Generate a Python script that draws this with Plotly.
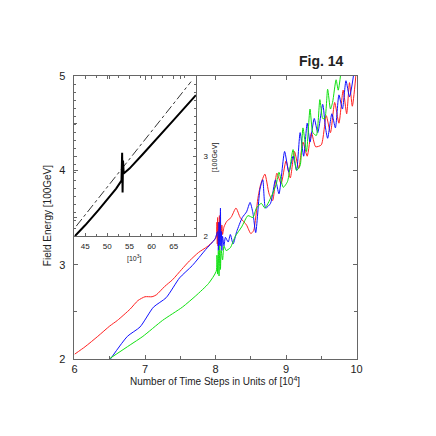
import plotly.graph_objects as go

# main panel: field energy vs time steps (units of 10^4)
red_x = [6.0, 6.15, 6.33, 6.5, 6.61, 6.79, 6.9, 7.0, 7.1, 7.16, 7.28, 7.39, 7.52, 7.63, 7.76, 7.88, 7.97, 8.01,
         8.02, 8.025, 8.03, 8.035, 8.04, 8.05, 8.055, 8.06, 8.07, 8.08, 8.09, 8.1, 8.12,
         8.16, 8.22, 8.29, 8.35, 8.44, 8.5, 8.54, 8.6, 8.64, 8.7, 8.76, 8.81, 8.87, 8.93, 9.0, 9.06,
         9.12, 9.18, 9.24, 9.3, 9.36, 9.42, 9.5, 9.57, 9.63, 9.69, 9.75, 9.81, 9.86, 9.9, 9.94, 9.99]
red_y = [2.05, 2.13, 2.24, 2.35, 2.41, 2.53, 2.62, 2.66, 2.66, 2.68, 2.77, 2.84, 2.95, 3.04, 3.13, 3.19, 3.25, 3.29,
         3.45, 3.22, 3.5, 3.2, 3.45, 3.25, 3.52, 3.28, 3.45, 3.3, 3.42, 3.32, 3.4,
         3.46, 3.5, 3.6, 3.5, 3.42, 3.33, 3.36, 3.7, 3.85, 3.96, 3.75, 3.68, 3.97, 3.86, 4.1, 3.92,
         4.2, 4.02, 4.3, 4.15, 4.4, 4.25, 4.27, 4.58, 4.4, 4.72, 4.5, 4.85, 4.6, 4.93, 4.68, 5.0]

blue_x = [6.51, 6.75, 6.93, 7.12, 7.3, 7.49, 7.67, 7.86, 7.99,
          8.03, 8.04, 8.05, 8.06, 8.07, 8.075, 8.085, 8.09, 8.1, 8.12,
          8.14, 8.18, 8.21, 8.25, 8.3, 8.38, 8.44, 8.49, 8.53, 8.57, 8.63, 8.67, 8.71, 8.78,
          8.85, 8.9, 8.98, 9.04, 9.1, 9.15, 9.2, 9.25, 9.3, 9.34, 9.4, 9.45, 9.52, 9.56, 9.59,
          9.65, 9.7, 9.75, 9.8, 9.85, 9.9, 9.96]
blue_y = [2.0, 2.24, 2.34, 2.55, 2.65, 2.86, 2.99, 3.16, 3.27,
          3.35, 3.15, 3.45, 3.2, 3.6, 3.2, 3.35, 3.15, 3.3, 3.2,
          3.29, 3.24, 3.32, 3.22, 3.35, 3.5, 3.56, 3.66, 3.55, 3.34, 3.8, 3.9, 3.6, 3.65,
          3.9, 3.75, 4.2, 3.98, 4.15, 4.0, 4.4, 4.15, 4.5, 4.3, 4.55, 4.4, 4.7, 4.45, 4.34,
          4.6, 4.45, 4.8, 4.65, 4.95, 4.78, 5.02]

green_x = [6.49, 6.79, 6.97, 7.25, 7.53, 7.72, 7.9, 8.01,
           8.02, 8.03, 8.04, 8.05, 8.06, 8.07, 8.08, 8.1, 8.12,
           8.15, 8.21, 8.28, 8.37, 8.46, 8.53, 8.58, 8.65, 8.7, 8.79, 8.86, 8.9, 8.96, 9.02,
           9.1, 9.15, 9.2, 9.24, 9.29, 9.34, 9.38, 9.43, 9.48, 9.52, 9.55, 9.59, 9.63, 9.66,
           9.71, 9.74, 9.78]
green_y = [2.0, 2.15, 2.24, 2.41, 2.55, 2.67, 2.8, 2.93,
           3.1, 2.9, 3.15, 2.88, 3.2, 2.95, 3.15, 3.05, 3.2,
           3.15, 3.18, 3.3, 3.4, 3.52, 3.5, 3.6, 3.65, 3.6, 3.72, 3.85, 3.98, 3.82, 3.88,
           4.22, 4.0, 4.05, 4.45, 4.2, 4.65, 4.4, 4.37, 4.75, 4.55, 4.55, 4.86, 4.65, 4.72,
           4.96, 4.85, 5.05]

# inset: units of 10^3 steps
inset_x = [42.6, 45, 48, 50, 52, 53.2, 53.35, 53.45, 53.55, 53.7, 55, 58, 61, 65, 70]
inset_y = [2.0, 2.14, 2.33, 2.46, 2.6, 2.7, 3.05, 2.55, 2.95, 2.79, 2.85, 3.03, 3.21, 3.46, 3.77]
fit_x = [43.0, 68.9]
fit_y = [2.13, 3.94]

FONT = "Liberation Sans, Arial, sans-serif"
AXC = "#666666"

fig = go.Figure()

for xs, ys, col in [(red_x, red_y, "#ff2020"), (blue_x, blue_y, "#1010ff"), (green_x, green_y, "#10e010")]:
    fig.add_trace(go.Scatter(x=xs, y=ys, mode="lines", line=dict(color=col, width=1, shape="spline", smoothing=0.6),
                             showlegend=False, hoverinfo="skip"))

fig.add_trace(go.Scatter(x=fit_x, y=fit_y, xaxis="x2", yaxis="y2", mode="lines",
                         line=dict(color="black", width=0.8, dash="dashdot"), showlegend=False))
fig.add_trace(go.Scatter(x=inset_x, y=inset_y, xaxis="x2", yaxis="y2", mode="lines",
                         line=dict(color="black", width=2), showlegend=False))

fig.update_layout(
    width=436, height=436, autosize=False,
    margin=dict(l=0, r=0, t=0, b=0),
    paper_bgcolor="white", plot_bgcolor="rgba(0,0,0,0)",
    font=dict(family=FONT, color="#222222"),
    xaxis=dict(domain=[73 / 436, 361 / 436], range=[6, 10], tickvals=[6, 7, 8, 9, 10],
               ticks="inside", ticklen=4, tickcolor=AXC, showline=True, linecolor=AXC, mirror="ticks",
               showgrid=False, zeroline=False, tickfont=dict(size=11), ticklabelstandoff=0,
               minor=dict(dtick=0.5, ticks="inside", ticklen=3, tickcolor=AXC)),
    yaxis=dict(domain=[73 / 436, 364 / 436], range=[2, 5], tickvals=[2, 3, 4, 5],
               ticks="inside", ticklen=4, tickcolor=AXC, showline=True, linecolor=AXC, mirror="ticks",
               showgrid=False, zeroline=False, tickfont=dict(size=11), ticklabelstandoff=6,
               minor=dict(dtick=0.5, ticks="inside", ticklen=3, tickcolor=AXC)),
    xaxis2=dict(domain=[73 / 436, 197 / 436], range=[42.6, 70], anchor="y2", tickvals=[45, 50, 55, 60, 65],
                ticks="inside", ticklen=3, tickcolor=AXC, showline=True, linecolor=AXC, mirror="ticks",
                showgrid=False, zeroline=False, tickfont=dict(size=8), ticklabelstandoff=2,
                minor=dict(dtick=2.5, ticks="inside", ticklen=2, tickcolor=AXC)),
    yaxis2=dict(domain=[199 / 436, 364 / 436], range=[2, 4.01], anchor="x2", side="right", tickvals=[2, 3],
                ticks="inside", ticklen=3, tickcolor=AXC, showline=True, linecolor=AXC, mirror="ticks",
                showgrid=False, zeroline=False, tickfont=dict(size=8), ticklabelstandoff=5,
                minor=dict(dtick=0.1, ticks="inside", ticklen=2, tickcolor=AXC)),
)

# text placed by pixel position, centred on the point
def label(text, px, py, size, angle=0):
    fig.add_annotation(text=text, x=px / 436, y=(436 - py) / 436, xref="paper", yref="paper",
                       xanchor="center", yanchor="middle", showarrow=False, textangle=angle,
                       font=dict(size=size))

label("<b>Fig. 14</b>", 325, 57, 14)
label("Number of Time Steps in Units of [10<sup>4</sup>]", 216, 386, 10)
label("Field Energy [100GeV]", 45, 216, 10, -90)
label("[10<sup>3</sup>]", 134, 260, 7)
label("[100GeV]", 216, 156, 7, -90)

# no page margin and no scrollbars, so the 436px figure fills the window exactly
page_js = ("document.documentElement.style.overflow='hidden';"
           "document.body.style.overflow='hidden';"
           "document.body.style.margin='0';")
fig.write_html("out.html", config={"displayModeBar": False}, post_script=page_js)
